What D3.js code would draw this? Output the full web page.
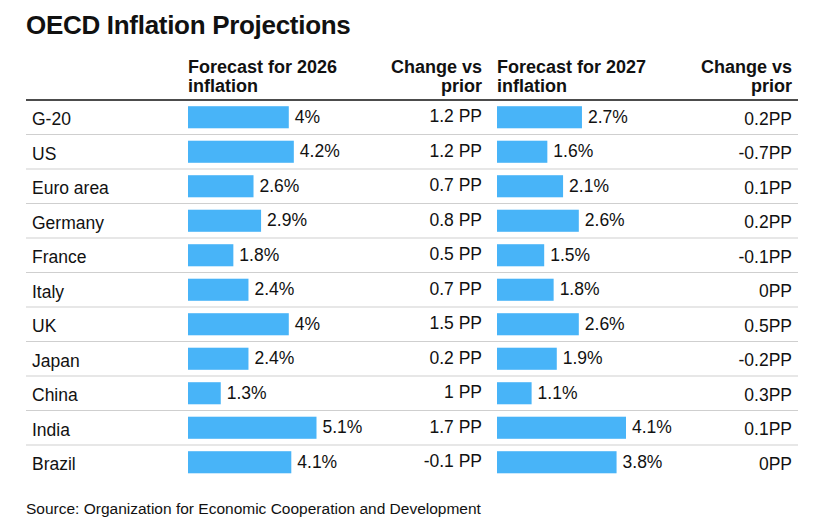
<!DOCTYPE html>
<html>
<head>
<meta charset="utf-8">
<script src="https://cdn.jsdelivr.net/npm/d3@7"></script>
<style>
  body { margin: 0; background: #fff; }
  text { font-family: "Liberation Sans", Arial, sans-serif; fill: #111; }
</style>
</head>
<body>
<div id="chart"></div>
<script>
var countries = ["G-20", "US", "Euro area", "Germany", "France", "Italy", "UK", "Japan", "China", "India", "Brazil"];
var forecast2026 = [4, 4.2, 2.6, 2.9, 1.8, 2.4, 4, 2.4, 1.3, 5.1, 4.1];
var change2026 = ["1.2 PP", "1.2 PP", "0.7 PP", "0.8 PP", "0.5 PP", "0.7 PP", "1.5 PP", "0.2 PP", "1 PP", "1.7 PP", "-0.1 PP"];
var forecast2027 = [2.7, 1.6, 2.1, 2.6, 1.5, 1.8, 2.6, 1.9, 1.1, 4.1, 3.8];
var change2027 = ["0.2PP", "-0.7PP", "0.1PP", "0.2PP", "-0.1PP", "0PP", "0.5PP", "-0.2PP", "0.3PP", "0.1PP", "0PP"];

var width = 815, height = 532;
var svg = d3.select("#chart").append("svg")
    .attr("width", width)
    .attr("height", height);

var left = 26, right = 798;
var tableTop = 100, rowH = 34.5;

var y = d3.scaleBand()
    .domain(countries)
    .range([tableTop, tableTop + rowH * countries.length])
    .paddingInner(0.36)
    .paddingOuter(0.18);

var x26 = d3.scaleLinear().domain([0, d3.max(forecast2026)]).range([0, 128.5]);
var x27 = d3.scaleLinear().domain([0, d3.max(forecast2027)]).range([0, 129]);

var col26 = 188, chg26 = 482, col27 = 497, chg27 = 792;

// title
svg.append("text")
    .attr("x", left).attr("y", 34)
    .style("font-size", "26px").style("font-weight", "bold")
    .style("letter-spacing", "-0.3px")
    .text("OECD Inflation Projections");

// headers
var heads = [
  {x: col26, anchor: "start", lines: ["Forecast for 2026", "inflation"]},
  {x: chg26, anchor: "end", lines: ["Change vs", "prior"]},
  {x: col27, anchor: "start", lines: ["Forecast for 2027", "inflation"]},
  {x: chg27, anchor: "end", lines: ["Change vs", "prior"]}
];
heads.forEach(function(h) {
  h.lines.forEach(function(l, i) {
    svg.append("text")
      .attr("x", h.x).attr("y", 73 + i * 19)
      .attr("text-anchor", h.anchor)
      .style("font-size", "18px").style("font-weight", "bold")
      .text(l);
  });
});

svg.append("line")
    .attr("x1", left).attr("x2", right)
    .attr("y1", tableTop).attr("y2", tableTop)
    .style("stroke", "#111").style("stroke-width", 1.5);

// row separators
svg.selectAll(".sep")
  .data(countries.slice(1))
  .enter().append("line")
    .attr("class", "sep")
    .attr("x1", left).attr("x2", right)
    .attr("y1", function(d, i) { return tableTop + rowH * (i + 1); })
    .attr("y2", function(d, i) { return tableTop + rowH * (i + 1); })
    .style("stroke", "#cfcfcf").style("stroke-width", 1);

var rows = countries.map(function(c, i) {
  return {name: c, f26: forecast2026[i], c26: change2026[i], f27: forecast2027[i], c27: change2027[i]};
});

function mid(d) { return y(d.name) + y.bandwidth() / 2; }

svg.selectAll(".cname").data(rows).enter().append("text")
    .attr("x", 32).attr("y", function(d) { return mid(d) + 8; })
    .style("font-size", "17.5px")
    .text(function(d) { return d.name; });

svg.selectAll(".b26").data(rows).enter().append("rect")
    .attr("x", col26).attr("y", function(d) { return y(d.name); })
    .attr("width", function(d) { return x26(d.f26); })
    .attr("height", y.bandwidth())
    .style("fill", "#48b4f8");

svg.selectAll(".l26").data(rows).enter().append("text")
    .attr("x", function(d) { return col26 + x26(d.f26) + 6; })
    .attr("y", function(d) { return mid(d) + 5.5; })
    .style("font-size", "17.5px")
    .text(function(d) { return d.f26 + "%"; });

svg.selectAll(".c26").data(rows).enter().append("text")
    .attr("x", chg26).attr("y", function(d) { return mid(d) + 5; })
    .attr("text-anchor", "end")
    .style("font-size", "17.5px")
    .text(function(d) { return d.c26; });

svg.selectAll(".b27").data(rows).enter().append("rect")
    .attr("x", col27).attr("y", function(d) { return y(d.name); })
    .attr("width", function(d) { return x27(d.f27); })
    .attr("height", y.bandwidth())
    .style("fill", "#48b4f8");

svg.selectAll(".l27").data(rows).enter().append("text")
    .attr("x", function(d) { return col27 + x27(d.f27) + 6; })
    .attr("y", function(d) { return mid(d) + 5.5; })
    .style("font-size", "17.5px")
    .text(function(d) { return d.f27 + "%"; });

svg.selectAll(".c27").data(rows).enter().append("text")
    .attr("x", chg27).attr("y", function(d) { return mid(d) + 7.5; })
    .attr("text-anchor", "end")
    .style("font-size", "17.5px")
    .text(function(d) { return d.c27; });

// source
svg.append("text")
    .attr("x", left).attr("y", 514)
    .style("font-size", "15.5px")
    .text("Source: Organization for Economic Cooperation and Development");
</script>
</body>
</html>
